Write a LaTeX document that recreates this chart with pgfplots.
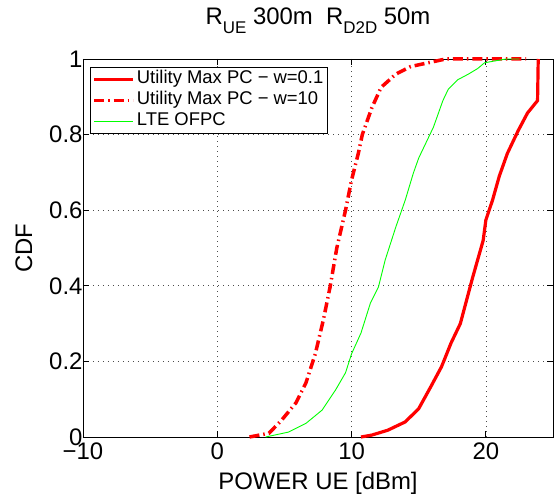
\documentclass[border=0pt]{standalone}
\usepackage{fontspec}
\setmainfont{Liberation Sans}
\usepackage{pgfplots}
\pgfplotsset{compat=1.18}
\begin{document}
\begin{tikzpicture}
\begin{axis}[
  scale only axis, width=470bp, height=378bp,
  xmin=-10, xmax=25, ymin=0, ymax=1,
  xtick={-10,0,10,20}, xticklabels={−10,0,10,20},
  ytick={0,0.2,0.4,0.6,0.8,1},
  yticklabels={0,0.2,0.4,0.6,0.8,1},
  grid=major,
  grid style={black!70, line width=0.7bp, dash pattern=on 1bp off 4bp},
  axis line style={line width=0.8bp},
  tick style={black, line width=0.8bp},
  major tick length=6bp,
  tick label style={font=\fontsize{24}{28}\selectfont},
  xticklabel style={yshift=-2bp},
  yticklabel style={xshift=3bp},
  xlabel={POWER UE [dBm]},
  ylabel={CDF},
  xlabel style={font=\fontsize{24}{28}\selectfont, at={(axis description cs:0.5,0)}, anchor=base, yshift=-52bp},
  ylabel style={font=\fontsize{24}{28}\selectfont, at={(axis description cs:-0.1255,0.5)}, anchor=center, rotate=0},
  title={R\raisebox{-0.4em}{\fontsize{17}{20}\selectfont UE} 300m\ \ R\raisebox{-0.4em}{\fontsize{17}{20}\selectfont D2D} 50m},
  title style={font=\fontsize{24}{28}\selectfont, at={(axis description cs:0.5,1)}, anchor=base, yshift=29bp},
  clip=false,
  legend cell align=left,
  legend image code/.code={\draw[#1] (0bp,0bp) -- (39bp,0bp);},
  legend style={at={(axis description cs:0.015,0.979)}, anchor=north west,
    font=\fontsize{18.5}{21}\selectfont, draw=black, line width=0.8bp,
    inner xsep=2bp, inner ysep=1.5bp,
    nodes={text height=12bp, text depth=4bp, inner ysep=2.5bp}},
]
\addplot[red, line width=3.2bp] coordinates {
(10.7,0) (11.5,0.005) (12.7,0.018) (14.0,0.04) (15.0,0.075) (15.9,0.133)
(16.7,0.186) (17.4,0.248) (18.1,0.30) (18.7,0.38) (19.0,0.42) (19.4,0.47)
(19.8,0.52) (20.0,0.574) (20.5,0.627) (21.0,0.69) (21.6,0.75) (22.4,0.81)
(23.1,0.857) (23.85,0.89) (23.9,1.0)
};
\addlegendentry{Utility Max PC − w=0.1}
\addplot[red, line width=3.5bp, dash pattern=on 10bp off 4bp on 1.5bp off 4bp] coordinates {
(2.4,0) (3.85,0.01) (4.8,0.045) (5.85,0.09) (6.6,0.143) (7.3,0.22)
(7.9,0.31) (8.4,0.397) (8.9,0.50) (9.55,0.60) (10.0,0.68) (10.5,0.75)
(10.8,0.80) (11.5,0.87) (12.2,0.925) (13.3,0.96) (14.4,0.98) (15.7,0.99)
(17.0,1.0) (23.0,1.0)
};
\addlegendentry{Utility Max PC − w=10}
\addplot[green, line width=0.9bp] coordinates {
(3.6,0) (5.3,0.013) (6.6,0.036) (7.8,0.071) (8.8,0.124) (9.55,0.17)
(10.0,0.22) (10.7,0.275) (11.4,0.354) (12.0,0.397) (12.5,0.468) (13.3,0.556)
(14.0,0.627) (14.6,0.698) (15.0,0.738) (16.1,0.82) (16.8,0.89) (17.2,0.92)
(17.9,0.945) (18.7,0.96) (19.4,0.975) (19.9,0.99) (21.5,1.0) (22.5,1.0)
};
\addlegendentry{LTE OFPC}
\end{axis}
\pgfresetboundingbox
\path (current axis.south west) ++(-83bp,-61bp) rectangle ++(555bp,498bp);
\end{tikzpicture}
\end{document}
